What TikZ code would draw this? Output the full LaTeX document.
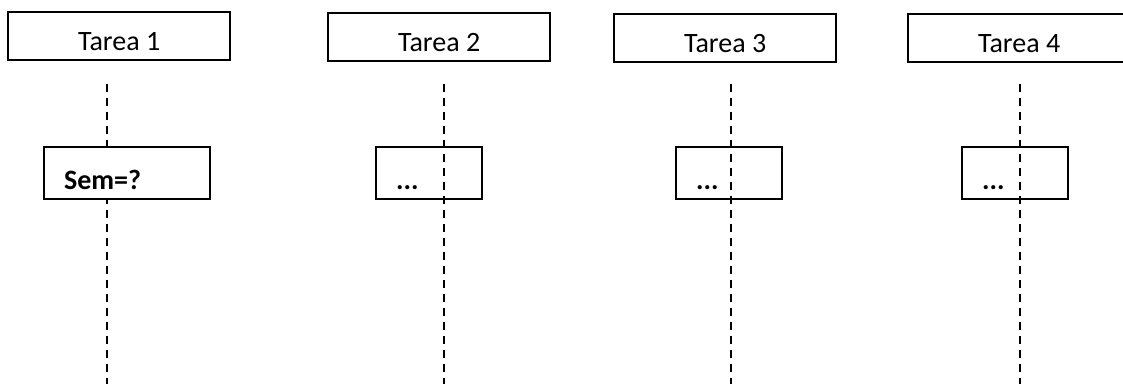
\documentclass[tikz,border=0pt]{standalone}
\usepackage{fontspec}
\setmainfont{Carlito}

\begin{document}
\begin{tikzpicture}
[x=1pt, y=-1pt, line width=2.3pt,
  tarea/.style={draw, anchor=north west, minimum width=222pt, minimum height=48pt,
    text height=29pt, text depth=0pt, font=\fontsize{28}{33}\selectfont},
  paso/.style={draw, anchor=north west, minimum height=52pt, align=left, inner xsep=20pt,
    text height=32pt, text depth=0pt, font=\fontsize{28}{33}\selectfont\bfseries},
  vida/.style={dash pattern=on 8pt off 6pt}]
  \useasboundingbox (0,0) rectangle (1123,383);
  \clip (0,0) rectangle (1123,383);

  % lineas de vida
  \foreach \i/\x in {1/107, 2/444, 3/731, 4/1020} {
    \coordinate (arriba\i) at (\x,84);
    \coordinate (abajo\i) at (\x,390);
    \draw[vida] (arriba\i) -- (abajo\i);
  }

  % tareas
  \node[tarea] (tarea1) at (7,11) {Tarea 1};
  \node[tarea] (tarea2) at (327,12) {Tarea 2};
  \node[tarea] (tarea3) at (613,13) {Tarea 3};
  \node[tarea] (tarea4) at (907,13) {Tarea 4};

  % pasos
  \node[paso, fill=white, text width=126pt] (sem) at (43,146) {Sem=?};
  \node[paso, text width=66pt] (paso2) at (375,146) {...};
  \node[paso, text width=66pt] (paso3) at (675,146) {...};
  \node[paso, text width=66pt] (paso4) at (961,146) {...};
\end{tikzpicture}
\end{document}
